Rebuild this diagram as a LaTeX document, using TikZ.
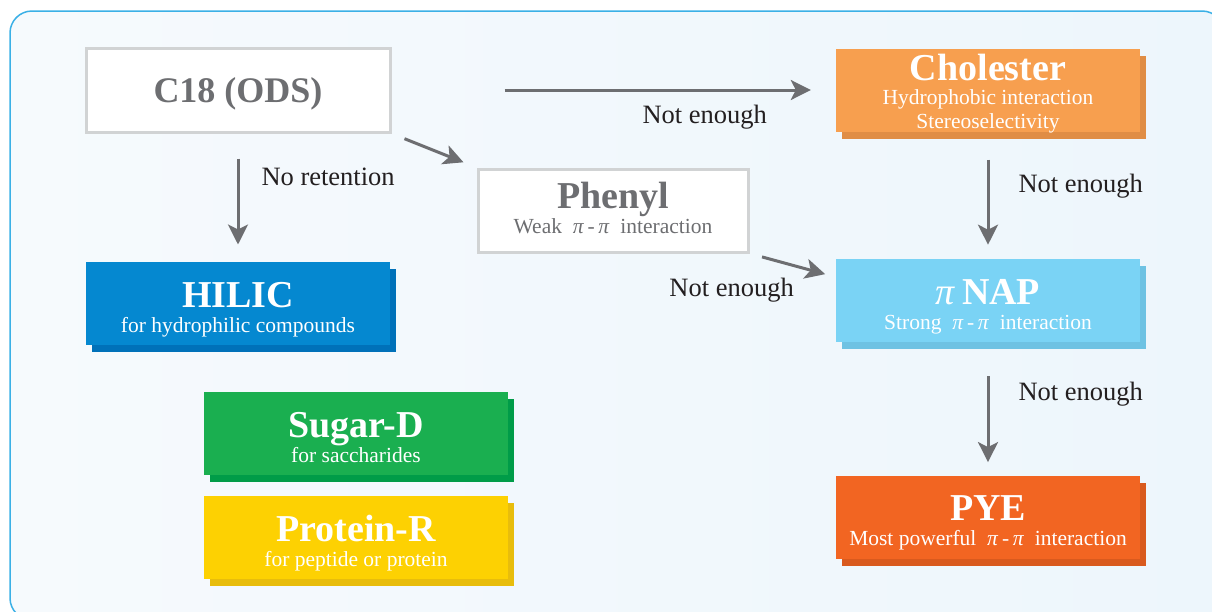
\documentclass[tikz,border=0pt]{standalone}
\usepackage{fontspec}
\setmainfont{Liberation Serif}
\usetikzlibrary{arrows.meta,positioning,shadows,calc}

\definecolor{frameblue}{HTML}{3BB0E6}
\definecolor{frameleft}{HTML}{F6FAFD}
\definecolor{frameright}{HTML}{EDF6FC}
\definecolor{boxgray}{HTML}{D1D3D4}
\definecolor{textgray}{HTML}{6D6E71}
\definecolor{arrowgray}{HTML}{6D6E71}
\definecolor{labelblack}{HTML}{231F20}
\definecolor{hilicblue}{HTML}{0588D0}
\definecolor{hilicdark}{HTML}{0071B9}
\definecolor{sugargreen}{HTML}{1AAF50}
\definecolor{sugardark}{HTML}{009C48}
\definecolor{proteinyellow}{HTML}{FDD102}
\definecolor{proteindark}{HTML}{E8BD0C}
\definecolor{cholorange}{HTML}{F79F4F}
\definecolor{choldark}{HTML}{E08D45}
\definecolor{napblue}{HTML}{7AD3F5}
\definecolor{napdark}{HTML}{6EC2E3}
\definecolor{pyeorange}{HTML}{F26522}
\definecolor{pyedark}{HTML}{D95A1E}

\newcommand\titlefnt{\fontsize{38}{40}\selectfont\bfseries}
\newcommand\subfnt{\fontsize{21.5}{25}\selectfont}
\newcommand\labfnt{\fontsize{26.5}{30}\selectfont}
% title line with a fixed height, and a fixed depth for the last line
\newcommand\ttl[2][38pt]{\rule{0pt}{#1}{\titlefnt #2}}
\newcommand\dpt{\rule[-5pt]{0pt}{5pt}}
\newcommand\pis{\textmd{\textit{π}}}
\newcommand\pipi{\ \ \pis\,-\,\pis\ \ }

\begin{document}
\begin{tikzpicture}[
    x = 1pt, y = -1pt, % pixel grid, y going down
    > = {Stealth[length=20pt,width=20pt,inset=5pt]}, % arrow head style
    flow/.style = {->, draw=arrowgray, line width=3pt},
    lab/.style = {text=labelblack, font=\labfnt, inner sep=0pt},
    whitebox/.style = {draw=boxgray, line width=3pt, fill=white, text=textgray,
        inner sep=0pt, align=center, font=\subfnt},
    colbox/.style 2 args = {fill=#1, text=white, inner sep=0pt, align=center,
        font=\subfnt, minimum width=304pt, minimum height=83pt,
        drop shadow={shadow xshift=6pt, shadow yshift=-7pt, fill=#2, opacity=1}}
    ]

    \useasboundingbox (0,0) rectangle (1212,611);
    \clip (0,0) rectangle (1212,611);

    % background frame
    \draw[draw=frameblue, line width=1.5pt, rounded corners=22pt,
        left color=frameleft, right color=frameright] (10,11) rectangle (1224,620);

    \node[whitebox, minimum width=304pt, minimum height=84pt] (c18) at (238,90)
        {\rule{0pt}{33pt}{\fontsize{36}{40}\selectfont\bfseries C18 (ODS)}};
    \node[colbox={cholorange}{choldark}, inner ysep=-2pt] (chol) at (988,90)
        {\ttl[34pt]{Cholester}\\[-1pt]Hydrophobic interaction\\[-1pt]Stereoselectivity\dpt};
    \node[whitebox, minimum width=270pt, minimum height=83pt] (phenyl) at (613,210.5)
        {\ttl[26pt]{Phenyl}\\Weak\pipi interaction\dpt};
    \node[colbox={hilicblue}{hilicdark}] (hilic) [below=128pt of c18]
        {\ttl{HILIC}\\for hydrophilic compounds\dpt};
    \node[colbox={napblue}{napdark}] (pinap) [below=127pt of chol]
        {\ttl{\pis\,NAP}\\Strong\pipi interaction\dpt};
    \node[colbox={pyeorange}{pyedark}] (pye) [below=134pt of pinap]
        {\ttl[36pt]{PYE}\\Most powerful\pipi interaction\dpt};
    \node[colbox={sugargreen}{sugardark}] (sugar) at (356,433.5)
        {\ttl{Sugar-D}\\for saccharides\dpt};
    \node[colbox={proteinyellow}{proteindark}] (protein) [below=21pt of sugar]
        {\ttl{Protein-R}\\for peptide or protein\dpt};

    \draw[flow, shorten <=25pt, shorten >=17pt] (c18) -- (hilic)
        node[lab, pos=0.34, right=22pt] {No retention};
    \draw[flow, shorten <=113pt, shorten >=25pt] (c18) -- (chol)
        node[lab, pos=0.705, below=14pt] {Not enough};
    \draw[flow, shorten <=14pt, shorten >=14pt] (c18.south east) -- (phenyl.north west);
    \draw[flow, shorten <=13pt, shorten >=11pt] (phenyl.south east)
        -- ($(pinap.north west)!0.22!(pinap.south west)$)
        node[lab, pos=0.6, below left=9pt and 6pt] {Not enough};
    \draw[flow, shorten <=28pt, shorten >=14pt] (chol) -- (pinap)
        node[lab, pos=0.43, right=29pt] {Not enough};
    \draw[flow, shorten <=34pt, shorten >=14pt] (pinap) -- (pye)
        node[lab, pos=0.39, right=29pt] {Not enough};
\end{tikzpicture}
\end{document}
